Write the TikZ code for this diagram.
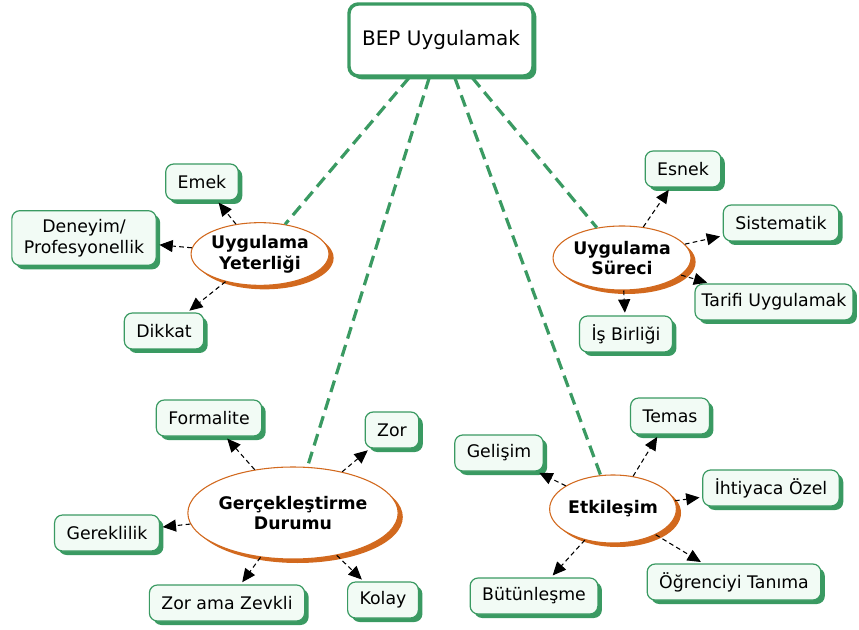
\documentclass[tikz,border=0pt]{standalone}
\usepackage{fontspec}
\setmainfont{DejaVu Sans}
\usetikzlibrary{shapes.geometric, arrows.meta, shadows}
\definecolor{MapGreen}{HTML}{3A9A62}
\definecolor{MapOrange}{HTML}{D2691E}
\definecolor{MapMint}{HTML}{F2FBF5}

\begin{document}
\begin{tikzpicture}[x=0.75pt, y=-0.75pt,
    rootbox/.style={draw=MapGreen, line width=2.6pt, fill=white, rounded corners=7pt,
        minimum width=138pt, minimum height=54pt, font=\fontsize{15}{17}\selectfont,
        drop shadow={shadow xshift=2.5pt, shadow yshift=-2.5pt, fill=MapGreen, opacity=1}},
    hub/.style={ellipse, draw=MapOrange, line width=0.8pt, fill=white, inner sep=0pt,
        align=center, font=\fontsize{13}{15.5}\selectfont\bfseries,
        drop shadow={shadow xshift=3.5pt, shadow yshift=-3pt, fill=MapOrange, opacity=1}},
    leaf/.style={draw=MapGreen, line width=0.9pt, fill=MapMint, rounded corners=6pt,
        inner xsep=9pt, minimum height=27pt, align=center, font=\fontsize{13}{15.5}\selectfont,
        drop shadow={shadow xshift=3pt, shadow yshift=-3pt, fill=MapGreen, opacity=1}},
    trunk/.style={draw=MapGreen, line width=2.4pt, dash pattern=on 9pt off 5pt},
    branch/.style={draw=black, line width=0.8pt, dash pattern=on 3.5pt off 2.5pt,
        -{Triangle[length=10pt, width=9pt]}, shorten >=2pt}
]
    \useasboundingbox (0,0) rectangle (859,630);

    % Root
    \node[rootbox] (bep) at (441,40) {BEP Uygulamak};

    % Main topics
    \node[hub, minimum width=90pt, minimum height=47pt] (yet) at (260,254) {Uygulama\\Yeterliği};
    \node[hub, minimum width=94pt, minimum height=48pt] (sur) at (622,258) {Uygulama\\Süreci};
    \node[hub, minimum width=136pt, minimum height=69pt] (ger) at (293,513) {Gerçekleştirme\\Durumu};
    \node[hub, minimum width=87pt, minimum height=51pt] (etk) at (613,509) {Etkileşim};

    % Links from root
    \draw[trunk] (bep) -- (yet);
    \draw[trunk] (bep) -- (ger);
    \draw[trunk] (bep) -- (etk);
    \draw[trunk] (bep) -- (sur);

    % Uygulama Yeterligi
    \node[leaf] (emek) at (202,182) {Emek};
    \node[leaf, minimum height=41pt] (deneyim) at (84,238) {Deneyim/\\Profesyonellik};
    \node[leaf] (dikkat) at (164,331) {Dikkat};
    \draw[branch] (yet) -- (emek);
    \draw[branch] (yet) -- (deneyim);
    \draw[branch] (yet) -- (dikkat);

    % Uygulama Sureci
    \node[leaf] (esnek) at (683,169) {Esnek};
    \node[leaf] (sistem) at (781,223) {Sistematik};
    \node[leaf, inner xsep=5pt] (tarifi) at (774,302) {Tarifi Uygulamak};
    \node[leaf] (isbir) at (626,334) {İş Birliği};
    \draw[branch] (sur) -- (esnek);
    \draw[branch] (sur) -- (sistem);
    \draw[branch] (sur) -- (tarifi);
    \draw[branch] (sur) -- (isbir);

    % Gerceklestirme Durumu
    \node[leaf] (formal) at (209,418) {Formalite};
    \node[leaf] (zor) at (392,430) {Zor};
    \node[leaf] (gerek) at (107,533) {Gereklilik};
    \node[leaf] (zevkli) at (227,603) {Zor ama Zevkli};
    \node[leaf] (kolay) at (383,600) {Kolay};
    \draw[branch] (ger) -- (formal);
    \draw[branch] (ger) -- (zor);
    \draw[branch] (ger) -- (gerek);
    \draw[branch] (ger) -- (zevkli);
    \draw[branch] (ger) -- (kolay);

    % Etkilesim
    \node[leaf] (temas) at (670,416) {Temas};
    \node[leaf] (gelisim) at (499,453) {Gelişim};
    \node[leaf] (ozel) at (771,488) {İhtiyaca Özel};
    \node[leaf] (tanima) at (734,582) {Öğrenciyi Tanıma};
    \node[leaf] (butun) at (534,596) {Bütünleşme};
    \draw[branch] (etk) -- (temas);
    \draw[branch] (etk) -- (gelisim);
    \draw[branch] (etk) -- (ozel);
    \draw[branch] (etk) -- (tanima);
    \draw[branch] (etk) -- (butun);
\end{tikzpicture}
\end{document}
